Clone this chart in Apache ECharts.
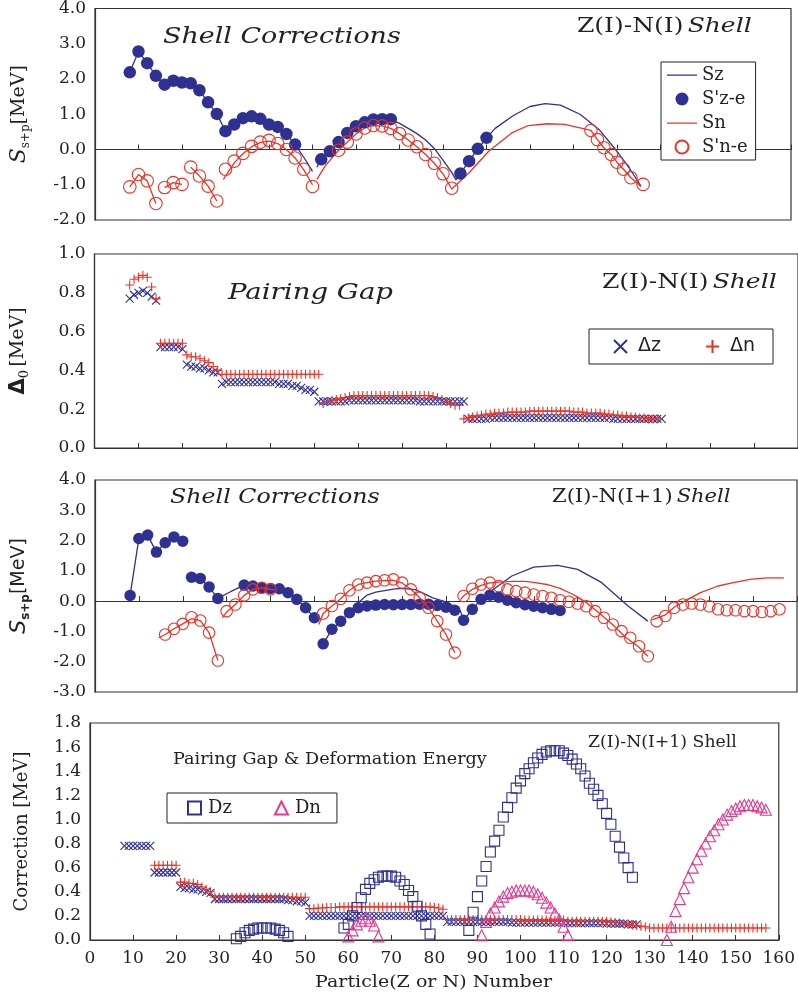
<!DOCTYPE html>
<html><head><meta charset="utf-8">
<script src="https://cdn.jsdelivr.net/npm/echarts@6/dist/echarts.min.js"></script>
<style>html,body{margin:0;padding:0;background:#fff}#c{width:798px;height:996px}</style>
</head><body><div id="c"></div>
<script>
// ---------- x axis ticks ----------
const xTicks = [0,10,20,30,40,50,60,70,80,90,100,110,120,130,140,150,160];

// ---------- Panel 1 : Z(I)-N(I) shell corrections ----------
const p1SzLine = [[8,2.19],[10,2.78],[12,2.45],[14,2.09],[16,1.84],[18,1.95],[20,1.90],[22,1.88],[24,1.68],[26,1.34],[28,1.01],[30,0.52],[32,0.71],[34,0.89],[36,0.94],[38,0.87],[40,0.71],[42,0.64],[44,0.44],[46,0.14],[48,-0.22],[50,-0.62],[50.5,'-'],[51,-0.5],[52,-0.28],[54,-0.05],[56,0.21],[58,0.47],[60,0.66],[62,0.77],[64,0.85],[66,0.86],[68,0.86],[70,0.74],[72,0.6],[74,0.45],[76,0.27],[78,0.03],[80,-0.3],[82,-0.65],[83,-0.86],[84,-0.68],[86,-0.33],[88,0.02],[90,0.33],[92,0.6],[96,0.95],[100,1.22],[103.5,1.30],[107,1.26],[111.5,1.0],[116,0.55],[120,-0.05],[123,-0.56],[125.5,-1.04]];
const p1SzPts = [[8,2.19],[10,2.78],[12,2.45],[14,2.09],[16,1.84],[18,1.95],[20,1.90],[22,1.88],[24,1.68],[26,1.34],[28,1.01],[30,0.52],[32,0.71],[34,0.89],[36,0.94],[38,0.87],[40,0.71],[42,0.64],[44,0.44],[46,0.14],[52,-0.28],[54,-0.05],[56,0.21],[58,0.47],[60,0.66],[62,0.77],[64,0.85],[66,0.86],[68,0.86],[84,-0.68],[86,-0.33],[88,0.02],[90,0.33]];
const p1SnLine = [[8,-1.06],[10,-0.71],[12,-0.89],[14,-1.53],[15,'-'],[16,-1.08],[18,-0.94],[20,-0.99],[21,'-'],[22,-0.50],[24,-0.75],[26,-1.04],[28,-1.46],[29,'-'],[29.5,-0.85],[32,-0.38],[34,-0.12],[36,0.08],[38,0.2],[40,0.24],[42,0.17],[44,0.0],[46,-0.24],[48,-0.58],[50,-1.0],[50.5,'-'],[51,-0.85],[53,-0.45],[56,-0.02],[58,0.21],[60,0.44],[62,0.61],[64,0.68],[66,0.67],[68,0.6],[70,0.45],[72,0.27],[74,0.08],[76,-0.14],[78,-0.39],[80,-0.69],[82,-1.12],[86,-0.66],[90.5,-0.05],[95.8,0.47],[99.6,0.68],[104,0.73],[108,0.71],[111,0.63],[114,0.54],[115.5,0.28],[117,0.05],[118.7,-0.14],[120,-0.36],[121.5,-0.56],[123.2,-0.80],[125.5,-1.05]];
const p1SnPts = [[8,-1.06],[10,-0.71],[12,-0.89],[14,-1.53],[16,-1.08],[18,-0.94],[20,-0.99],[22,-0.50],[24,-0.75],[26,-1.04],[28,-1.46],[30,-0.56],[32,-0.33],[34,-0.11],[36,0.09],[38,0.21],[40,0.26],[42,0.17],[44,0.0],[46,-0.24],[48,-0.56],[50,-1.05],[56,-0.02],[58,0.21],[60,0.44],[62,0.61],[64,0.68],[66,0.67],[68,0.6],[70,0.45],[72,0.27],[74,0.08],[76,-0.14],[78,-0.39],[80,-0.69],[82,-1.1],[114,0.54],[115.5,0.28],[117,0.05],[118.7,-0.14],[120,-0.36],[121.5,-0.56],[123.2,-0.80],[126,-0.99]];

// ---------- Panel 2 : pairing gap Z(I)-N(I) (values from x = 8 in steps of 1) ----------
const p2Start = 8;
const p2Dz = [0.77,0.79,0.80,0.81,0.80,0.78,0.76, 0.52,0.52,0.52,0.52,0.52,0.51, 0.43,0.42,0.42,0.41,0.41,0.40,0.39,0.39,
  0.33,0.34,0.34,0.34,0.34,0.34,0.34,0.34,0.34,0.34,0.34,0.34,0.34,0.33,0.33,0.33, 0.32,0.32,0.31,0.30,0.30,0.29,
  0.24,0.24,0.24,0.24,0.24,0.24,0.24,0.245,0.245,0.245,0.245,0.245,0.245,0.245,0.245,0.245,0.245,0.245,0.245,0.245,0.245,0.245,0.245,0.24,0.24,0.24,0.24,0.24,0.24,0.24,0.24,0.24,0.24,0.24,
  0.15,0.15,0.15,0.15,0.15,0.155,0.155,0.155,0.155,0.155,0.155,0.155,0.155,0.155,0.155,0.155,0.155,0.155,0.155,0.155,0.155,0.155,0.155,0.155,0.155,0.155,0.155,0.155,0.155,0.155,0.155,0.155,0.155,0.15,0.15,0.15,0.15,0.15,0.15,0.15,0.15,0.15,0.15,0.15,0.15];
const p2Dn = [0.84,0.87,0.88,0.89,0.88,0.83,0.77, 0.54,0.54,0.54,0.54,0.54,0.54, 0.48,0.47,0.47,0.46,0.45,0.44,0.42,0.40,
  0.38,0.38,0.38,0.38,0.38,0.38,0.38,0.38,0.38,0.38,0.38,0.38,0.38,0.38,0.38,0.38,0.38,0.38,0.38,0.38,0.38,0.38,0.38,
  0.23,0.24,0.245,0.25,0.255,0.26,0.265,0.27,0.27,0.27,0.27,0.27,0.27,0.27,0.27,0.27,0.27,0.27,0.27,0.27,0.27,0.27,0.27,0.27,0.27,0.265,0.26,0.25,0.24,0.23,0.22,0.22,
  0.15,0.155,0.16,0.165,0.17,0.175,0.175,0.18,0.18,0.18,0.185,0.185,0.185,0.185,0.185,0.19,0.19,0.19,0.19,0.19,0.19,0.19,0.19,0.19,0.19,0.185,0.185,0.185,0.18,0.18,0.18,0.18,0.175,0.175,0.17,0.17,0.165,0.165,0.16,0.16,0.155,0.155,0.15,0.15,0.15];

// ---------- Panel 3 : Z(I)-N(I+1) shell corrections ----------
const p3SzLine = [[8,0.19],[10,2.07],[12,2.18],[14,1.62],[16,1.93],[18,2.12],[20,1.98],[21,'-'],[22,0.79],[24,0.75],[26,0.47],[28,0.09],[31,0.32],[34,0.53],[36,0.5],[38,0.44],[40,0.42],[42,0.41],[44,0.28],[46,0.06],[48,-0.22],[50,-0.55],[51,'-'],[52,-1.41],[54,-0.93],[56,-0.66],[58,-0.38],[60,-0.05],[62,0.2],[64,0.3],[66,0.35],[68,0.4],[70,0.42],[73,0.38],[77,0.11],[80.5,-0.05],[83.3,-0.33],[84,-0.63],[86,-0.27],[88,0.06],[90,0.3],[95,0.83],[100,1.12],[105.5,1.18],[110,1.05],[115.5,0.61],[121.5,-0.16],[126,-0.66]];
const p3SzPts = [[8,0.19],[10,2.07],[12,2.18],[14,1.62],[16,1.93],[18,2.12],[20,1.98],[22,0.79],[24,0.75],[26,0.47],[28,0.09],[34,0.53],[36,0.50],[38,0.44],[40,0.42],[42,0.41],[44,0.28],[46,0.06],[48,-0.22],[50,-0.55],[52,-1.41],[54,-0.93],[56,-0.66],[58,-0.38],[60,-0.22],[62,-0.16],[64,-0.13],[66,-0.11],[68,-0.12],[70,-0.11],[72,-0.11],[74,-0.1],[76,-0.1],[78,-0.14],[80,-0.2],[82,-0.3],[84,-0.63],[86,-0.27],[88,0.06],[90,0.2],[92,0.13],[94,0.03],[96,-0.05],[98,-0.12],[100,-0.17],[102,-0.22],[104,-0.27],[106,-0.31]];
const p3SnLine = [[14.5,-1.21],[16,-1.10],[18,-0.91],[20,-0.75],[22,-0.58],[24,-0.64],[26,-1.04],[28,-1.96],[28.5,'-'],[29,-0.55],[30,-0.36],[32,-0.11],[34,0.19],[36,0.39],[38,0.44],[40,0.39],[41,0.37],[45,'-'],[51,-0.77],[52,-0.41],[54,-0.16],[56,0.08],[58,0.36],[60,0.55],[62,0.61],[64,0.66],[66,0.68],[68,0.69],[70,0.6],[72,0.39],[74,0.11],[76,-0.22],[78,-0.66],[80,-1.1],[82,-1.7],[83,'-'],[83.3,0.05],[84,0.17],[86,0.39],[88,0.52],[90,0.6],[92,0.63],[95,0.65],[98,0.65],[100,0.62],[103,0.55],[106,0.42],[109,0.22],[112,-0.05],[115,-0.4],[118,-0.78],[121,-1.2],[124,-1.52],[126,-1.82],[126.5,'-'],[127,-0.62],[130,-0.45],[132,-0.2],[135,0.05],[138,0.28],[142,0.5],[145.5,0.61],[149.3,0.72],[153,0.77],[157,0.77]];
const p3SnPts = [[16,-1.10],[18,-0.91],[20,-0.75],[22,-0.53],[24,-0.64],[26,-1.04],[28,-1.96],[30,-0.33],[32,-0.11],[34,0.19],[36,0.39],[38,0.44],[40,0.39],[52,-0.41],[54,-0.16],[56,0.08],[58,0.36],[60,0.55],[62,0.61],[64,0.66],[66,0.69],[68,0.72],[70,0.61],[72,0.39],[74,0.11],[76,-0.22],[78,-0.66],[80,-1.10],[82,-1.70],[84,0.17],[86,0.41],[88,0.55],[90,0.61],[92,0.50],[94,0.39],[96,0.33],[98,0.28],[100,0.22],[102,0.17],[104,0.11],[106,0.03],[108,-0.02],[110,-0.08],[112,-0.17],[114,-0.33],[116,-0.55],[118,-0.77],[120,-0.99],[122,-1.21],[124,-1.49],[126,-1.82],[128,-0.66],[130,-0.49],[132,-0.22],[134,-0.11],[136,-0.08],[138,-0.11],[140,-0.17],[142,-0.27],[144,-0.30],[146,-0.30],[148,-0.33],[150,-0.33],[152,-0.36],[154,-0.33],[156,-0.27]];

// ---------- Panel 4 : pairing gap & deformation energy, Z(I)-N(I+1) ----------
const p4GapZStart = 8;
const p4GapZ = [0.78,0.78,0.78,0.78,0.78,0.78,0.78, 0.56,0.56,0.56,0.56,0.56,0.56, 0.44,0.43,0.43,0.42,0.42,0.41,0.40,0.39,
  0.34,0.34,0.34,0.34,0.34,0.34,0.34,0.34,0.34,0.34,0.34,0.34,0.34,0.34,0.34,0.34,0.34,0.33,0.33,0.32,0.32,0.31,
  0.20,0.20,0.20,0.20,0.20,0.20,0.20,0.20,0.20,0.20,0.20,0.20,0.20,0.20,0.20,0.20,0.20,0.20,0.20,0.20,0.20,0.20,0.20,0.20,0.20,0.20,0.20,0.20,0.20,0.20,0.20,0.20,
  0.15,0.15,0.15,0.15,0.15,0.15,0.15,0.15,0.15,0.15,0.15,0.15,0.15,0.15,0.15,0.145,0.145,0.145,0.145,0.145,0.145,0.145,0.145,0.145,0.145,0.145,0.145,0.145,0.14,0.14,0.14,0.14,0.14,0.14,0.14,0.14,0.14,0.135,0.135,0.135,0.135,0.135,0.13,0.13,0.13];
const p4GapNStart = 15;
const p4GapN = [0.62,0.62,0.62,0.62,0.62,0.62, 0.48,0.48,0.47,0.47,0.46,0.44,0.42,0.40,
  0.355,0.355,0.355,0.355,0.355,0.355,0.355,0.355,0.355,0.355,0.355,0.355,0.355,0.355,0.355,0.355,0.355,0.355,0.355,0.355,0.355,0.355,
  0.26,0.26,0.265,0.265,0.27,0.27,0.27,0.275,0.275,0.275,0.275,0.275,0.275,0.275,0.275,0.275,0.275,0.275,0.275,0.275,0.275,0.275,0.275,0.275,0.275,0.275,0.275,0.275,0.275,0.27,0.265,0.255,
  0.17,0.17,0.17,0.17,0.17,0.17,0.17,0.17,0.17,0.17,0.17,0.17,0.17,0.17,0.17,0.17,0.17,0.17,0.165,0.165,0.165,0.165,0.165,0.165,0.165,0.165,0.165,0.165,0.155,0.155,0.155,0.155,0.155,0.155,0.155,0.155,0.155,0.155,0.15,0.145,0.14,0.135,0.13,0.125,0.12,0.115,0.11,
  0.10,0.10,0.10,0.10,0.10,0.10,0.10,0.10,0.10,0.10,0.10,0.10,0.10,0.10,0.10,0.10,0.10,0.10,0.10,0.10,0.10,0.10,0.10,0.10,0.10,0.10,0.10,0.10];
const dzA = [0.01,0.03,0.06,0.08,0.09,0.10,0.10,0.10,0.10,0.09,0.08,0.06,0.03];            // Z = 34..46
const dzB = [0.10,0.13,0.20,0.27,0.35,0.42,0.47,0.50,0.52,0.53,0.53,0.53,0.52,0.49,0.46,0.41,0.36,0.28,0.20,0.13,0.05]; // Z = 59..79
const dzC = [0.08,0.23,0.36,0.49,0.61,0.73,0.82,0.91,1.02,1.10,1.18,1.26,1.32,1.38,1.42,1.47,1.51,1.54,1.56,1.57,1.57,1.57,1.55,1.53,1.50,1.46,1.42,1.36,1.30,1.25,1.20,1.13,1.05,0.96,0.86,0.77,0.68,0.60,0.52]; // Z = 88..126
const dnA = [0.03,0.08,0.13,0.16,0.18,0.16,0.12,0.03];                                      // N = 60..67
const dnB = [0.04,0.15,0.22,0.27,0.32,0.36,0.39,0.40,0.41,0.41,0.41,0.41,0.40,0.38,0.35,0.31,0.27,0.22,0.17,0.11,0.04]; // N = 91..111
const dnC = [0.00,0.11,0.24,0.34,0.43,0.52,0.60,0.67,0.74,0.80,0.86,0.91,0.96,1.00,1.04,1.07,1.09,1.11,1.12,1.12,1.12,1.11,1.10,1.08]; // N = 134..157
const dzStarts = [34,59,88];
const dnStarts = [60,91,134];

// ---------- build ----------
const seq = (x0, ys) => ys.map((y, i) => [x0 + i, y]);
const BLUE = '#2e3192', RED = '#ee3124', MAG = '#e8378e', INK = '#222';
const SERIF = '"DejaVu Serif", serif';
const SANS = '"DejaVu Sans", sans-serif';
const CROSS = 'path://M0 0L10 10M0 10L10 0';
const PLUS = 'path://M5 0L5 10M0 5L10 5';
const LINEICON = 'path://M0 0H30V0.01H0Z M0 5.9H30V7.2H0Z M0 13H30V13.01H0Z';

const grids = [
  {left: 90, top: 8, width: 701, height: 212},
  {left: 90, top: 254, width: 712, height: 194},
  {left: 90, top: 480, width: 707, height: 212},
  {left: 90, top: 723, width: 691, height: 217}
].map(g => Object.assign(g, {show: true, borderColor: '#333', borderWidth: 1.2, backgroundColor: '#fff'}));

const xAxes = [0,1,2,3].map(i => ({
  type: 'value', gridIndex: i, min: xTicks[0], max: xTicks[xTicks.length-1], interval: 10,
  axisLine: {show: true, lineStyle: {color: '#333', width: 1.2}},
  axisTick: {show: true, inside: true, length: 5, lineStyle: {color: '#333'}},
  splitLine: {show: false},
  axisLabel: {show: i === 3, fontFamily: SERIF, fontSize: 17, color: INK, margin: 10}
}));

const yCommon = {
  type: 'value', axisLine: {show: true, lineStyle: {color: '#333', width: 1.2}},
  axisTick: {show: false}, splitLine: {show: false},
  axisLabel: {fontFamily: SERIF, fontSize: 17, color: INK, margin: 9, formatter: v => v.toFixed(1)},
  nameLocation: 'middle', nameRotate: 90
};
const yAxes = [
  Object.assign({}, yCommon, {gridIndex: 0, min: -2, max: 4, interval: 1, nameGap: 63,
    name: '{s|S}{b|s+p}{n|[MeV]}',
    nameTextStyle: {color: INK, rich: {
      s: {fontFamily: SERIF, fontStyle: 'italic', fontSize: 22, color: INK, verticalAlign: 'middle', lineHeight: 26},
      b: {fontFamily: SERIF, fontSize: 12, color: INK, verticalAlign: 'bottom', lineHeight: 26},
      n: {fontFamily: SERIF, fontSize: 19, color: INK, verticalAlign: 'middle', lineHeight: 26}}}}),
  Object.assign({}, yCommon, {gridIndex: 1, min: 0, max: 1, interval: 0.2, nameGap: 63,
    name: '{d|Δ}{b|0} {n|[MeV]}',
    nameTextStyle: {color: INK, rich: {
      d: {fontFamily: SANS, fontWeight: 'bold', fontSize: 21, color: INK, verticalAlign: 'middle', lineHeight: 26},
      b: {fontFamily: SERIF, fontSize: 13, color: INK, verticalAlign: 'bottom', lineHeight: 26},
      n: {fontFamily: SERIF, fontSize: 19, color: INK, verticalAlign: 'middle', lineHeight: 26}}}}),
  Object.assign({}, yCommon, {gridIndex: 2, min: -3, max: 4, interval: 1, nameGap: 63,
    name: '{s|S}{b|s+p}{n|[MeV]}',
    nameTextStyle: {color: INK, rich: {
      s: {fontFamily: SANS, fontStyle: 'italic', fontSize: 22, color: INK, verticalAlign: 'middle', lineHeight: 26},
      b: {fontFamily: SANS, fontWeight: 'bold', fontSize: 12, color: INK, verticalAlign: 'bottom', lineHeight: 26},
      n: {fontFamily: SANS, fontSize: 19, color: INK, verticalAlign: 'middle', lineHeight: 26}}}}),
  Object.assign({}, yCommon, {gridIndex: 3, min: 0, max: 1.8, interval: 0.2, nameGap: 59,
    name: 'Correction [MeV]',
    nameTextStyle: {fontFamily: SERIF, fontSize: 18, color: INK}})
];

function lineS(name, gi, data, color) {
  return {type: 'line', name, xAxisIndex: gi, yAxisIndex: gi, data, symbol: 'none', showSymbol: false,
    connectNulls: false, lineStyle: {color, width: 1.3}, itemStyle: {color}, z: 3};
}
function dotS(name, gi, data, color, size) {
  return {type: 'scatter', name, xAxisIndex: gi, yAxisIndex: gi, data, symbol: 'circle', symbolSize: size,
    itemStyle: {color, opacity: 1}, z: 4};
}
function openS(name, gi, data, symbol, color, size, z) {
  return {type: 'scatter', name, xAxisIndex: gi, yAxisIndex: gi, data, symbol, symbolSize: size,
    itemStyle: {color: 'rgba(255,255,255,0)', borderColor: color, borderWidth: 1.1, opacity: 1}, z: z || 5};
}

const series = [
  lineS('Sz', 0, p1SzLine, BLUE),
  dotS("S'z-e", 0, p1SzPts, BLUE, 12.5),
  lineS('Sn', 0, p1SnLine, RED),
  openS("S'n-e", 0, p1SnPts, 'circle', RED, 12.5),

  openS('Δz', 1, seq(p2Start, p2Dz), CROSS, BLUE, 8, 4),
  openS('Δn', 1, seq(p2Start, p2Dn), PLUS, RED, 9, 5),

  lineS('Sz3', 2, p3SzLine, BLUE),
  dotS("S'z-e3", 2, p3SzPts, BLUE, 11.5),
  Object.assign(lineS('Sn3', 2, p3SnLine, RED), {z: 5}),
  openS("S'n-e3", 2, p3SnPts, 'circle', RED, 11.5, 6),

  openS('Δz4', 3, seq(p4GapZStart, p4GapZ), CROSS, BLUE, 8, 3),
  openS('Δn4', 3, seq(p4GapNStart, p4GapN), PLUS, RED, 9, 4),
  openS('Dz', 3, [].concat(seq(dzStarts[0], dzA), seq(dzStarts[1], dzB), seq(dzStarts[2], dzC)), 'rect', BLUE, 10, 5),
  openS('Dn', 3, [].concat(seq(dnStarts[0], dnA), seq(dnStarts[1], dnB), seq(dnStarts[2], dnC)), 'triangle', MAG, 11, 6)
];

const legends = [
  {data: [{name: 'Sz', icon: LINEICON}, "S'z-e", {name: 'Sn', icon: LINEICON}, "S'n-e"],
   orient: 'vertical', left: 661, top: 62, padding: [4, 8, 4, 6],
   itemGap: 6, itemWidth: 30, itemHeight: 13, selectedMode: false, borderColor: '#222', borderWidth: 1,
   backgroundColor: '#fff', textStyle: {fontFamily: SERIF, fontSize: 18, color: INK}},
  {data: ['Δz', 'Δn'], orient: 'horizontal', left: 589, top: 329, padding: [8, 18, 8, 24],
   itemGap: 44, itemWidth: 13, itemHeight: 13, selectedMode: false, borderColor: '#222', borderWidth: 1,
   backgroundColor: '#fff', textStyle: {fontFamily: SANS, fontSize: 19, color: INK, padding: [0, 0, 0, 6]}},
  {data: ['Dz', 'Dn'], orient: 'horizontal', left: 167, top: 793, padding: [6, 16, 6, 20],
   itemGap: 42, itemWidth: 13, itemHeight: 13, selectedMode: false, borderColor: '#222', borderWidth: 1,
   backgroundColor: '#fff', textStyle: {fontFamily: SERIF, fontSize: 18, color: INK, padding: [0, 0, 0, 2]}}
];

function label(x, y, text, rich, extra, sx) {
  return {type: 'text', x, y, z: 100, scaleX: sx || 1,
    style: Object.assign({text, rich, align: 'left', verticalAlign: 'middle', fill: INK}, extra || {})};
}
const richShell = sz => ({r: {fontFamily: SERIF, fontSize: sz, fill: INK, color: INK}, i: {fontFamily: SERIF, fontSize: sz, fontStyle: 'italic', fill: INK, color: INK}});
const graphics = [
  label(163, 37, 'Shell Corrections', null, {font: 'italic 23px ' + SERIF}, 1.17),
  label(577, 27, '{r|Z(I)-N(I)} {i|Shell}', richShell(20), null, 1.25),
  label(228, 293, 'Pairing Gap', null, {font: 'italic 23px ' + SERIF}, 1.2),
  label(602, 283, '{r|Z(I)-N(I)} {i|Shell}', richShell(20), null, 1.25),
  label(170, 498, 'Shell Corrections', null, {font: 'italic 21px ' + SERIF}, 1.13),
  label(552, 497, '{r|Z(I)-N(I+1)} {i|Shell}', richShell(18), null, 1.17),
  label(173, 760, 'Pairing Gap & Deformation Energy', null, {font: '16px ' + SERIF}, 1.1),
  label(588, 743, 'Z(I)-N(I+1) Shell', null, {font: '16px ' + SERIF}, 1.08),
  label(315, 983, 'Particle(Z or N) Number', null, {font: '17px ' + SERIF}, 1.12)
];

const chart = echarts.init(document.getElementById('c'), null, {renderer: 'canvas'});
chart.setOption({
  animation: false, backgroundColor: '#fff',
  grid: grids, xAxis: xAxes, yAxis: yAxes, series, legend: legends, graphic: graphics
});
</script></body></html>
